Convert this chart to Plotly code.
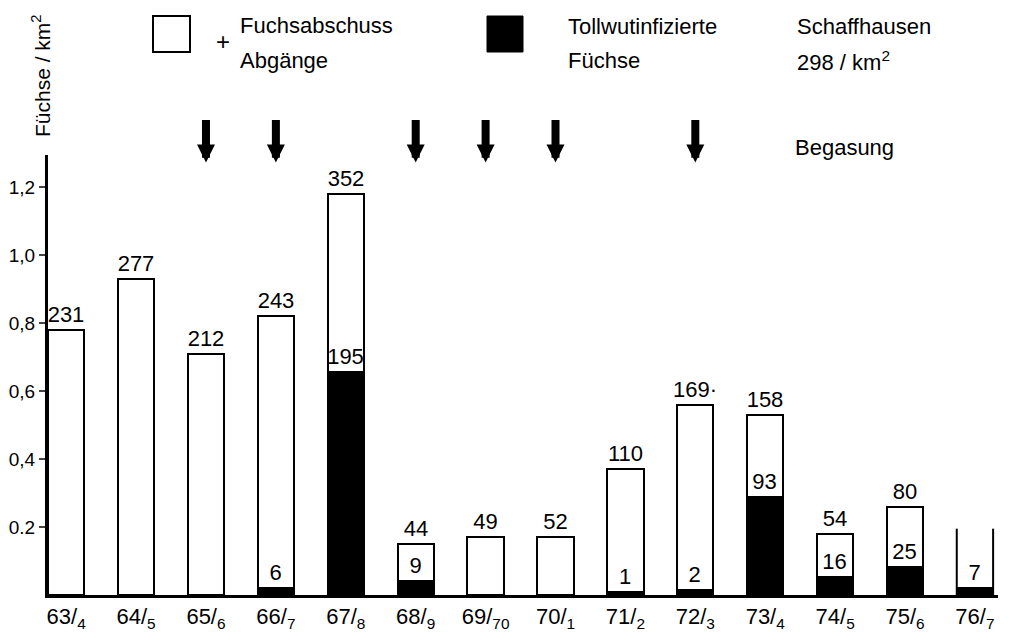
import plotly.graph_objects as go

# ---- data ----
seasons = ["63/4", "64/5", "65/6", "66/7", "67/8", "68/9", "69/70",
           "70/1", "71/2", "72/3", "73/4", "74/5", "75/6", "76/7"]
tick_labels = ["63/<sub>4</sub>", "64/<sub>5</sub>", "65/<sub>6</sub>", "66/<sub>7</sub>",
               "67/<sub>8</sub>", "68/<sub>9</sub>", "69/<sub>70</sub>", "70/<sub>1</sub>",
               "71/<sub>2</sub>", "72/<sub>3</sub>", "73/<sub>4</sub>", "74/<sub>5</sub>",
               "75/<sub>6</sub>", "76/<sub>7</sub>"]
# Fuchsabschuss + Abgänge (foxes per km²) and counts
total_density = [0.78, 0.93, 0.71, 0.82, 1.18, 0.15, 0.17,
                 0.17, 0.37, 0.56, 0.53, 0.18, 0.26, 0.195]
total_counts = ["231", "277", "212", "243", "352", "44", "49",
                "52", "110", "169·", "158", "54", "80", ""]
# Tollwutinfizierte Füchse (foxes per km²) and counts
rabid_density = [0, 0, 0, 0.02, 0.656, 0.041, 0,
                 0, 0.01, 0.015, 0.288, 0.053, 0.082, 0.02]
rabid_counts = ["", "", "", "6", "195", "9", "",
                "", "1", "2", "93", "16", "25", "7"]
open_top = [False] * 13 + [True]          # last season incomplete
gassing = ["65/6", "66/7", "68/9", "69/70", "70/1", "72/3"]   # Begasung
y_ticks = [0.2, 0.4, 0.6, 0.8, 1.0, 1.2]
y_tick_text = ["0.2", "0,4", "0,6", "0,8", "1,0", "1,2"]

FONT = "Liberation Sans, Arial, sans-serif"
FS = 22
BW = 0.52

idx = list(range(len(seasons)))

# the page body has an 8px margin: figure coords = page coords - 8
OFF = 8
W, H = 1009 - OFF, 642 - OFF
# plot area in page pixels
L, R, T, B = 48, 998, 155, 595
def px(x):
    return (x - L) / (R - L)
def py(y):
    return (B - y) / (B - T)

fig = go.Figure()

fig.add_trace(go.Bar(
    x=idx, y=total_density, width=BW,
    marker=dict(color="white",
                line=dict(color=["rgba(0,0,0,0)" if o else "black" for o in open_top], width=2)),
    text=total_counts, textposition="outside", cliponaxis=False,
    constraintext="none",
    textfont=dict(family=FONT, size=FS, color="black"),
    hoverinfo="skip", showlegend=False))

fig.add_trace(go.Bar(
    x=idx, y=rabid_density, width=BW,
    marker=dict(color="black", line=dict(color="black", width=1)),
    text=rabid_counts, textposition="outside", cliponaxis=False,
    constraintext="none",
    textfont=dict(family=FONT, size=FS, color="black"),
    hoverinfo="skip", showlegend=False))

# sides of open-topped bar(s)
sx, sy = [], []
for i, o in enumerate(open_top):
    if o:
        for side in (-BW / 2, BW / 2):
            sx += [i + side, i + side, None]
            sy += [0, total_density[i], None]
fig.add_trace(go.Scatter(x=sx, y=sy, mode="lines", line=dict(color="black", width=2),
                         hoverinfo="skip", showlegend=False, cliponaxis=False))

annotations = []
# Begasung arrows
for s in gassing:
    annotations.append(dict(x=seasons.index(s), y=1.272, xref="x", yref="y",
                            text="", showarrow=True, ax=0, ay=-44,
                            arrowhead=2, arrowsize=0.45, arrowwidth=8, arrowcolor="black"))

def txt(x, y, s, size=FS, anchor="left"):
    annotations.append(dict(x=px(x), y=py(y), xref="paper", yref="paper", text=s,
                            showarrow=False, xanchor=anchor, yanchor="middle",
                            font=dict(family=FONT, size=size, color="black")))

txt(238, 25, "Fuchsabschuss")
txt(238, 60, "Abgänge")
txt(214, 41, "+", size=24)
txt(566, 26, "Tollwutinfizierte")
txt(566, 60, "Füchse")
txt(795, 27, "Schaffhausen")
txt(795, 61, "298 / km<sup>2</sup>")
txt(793, 147, "Begasung")

# y axis title
annotations.append(dict(x=px(41), y=py(76), xref="paper", yref="paper",
                        text="Füchse / km<sup>2</sup>", textangle=-90, showarrow=False,
                        xanchor="center", yanchor="middle",
                        font=dict(family=FONT, size=21, color="black")))

shapes = [
    dict(type="rect", xref="paper", yref="paper", x0=px(153), x1=px(190), y0=py(52), y1=py(16),
         line=dict(color="black", width=2), fillcolor="white"),
    dict(type="rect", xref="paper", yref="paper", x0=px(487), x1=px(523), y0=py(52), y1=py(16),
         line=dict(color="black", width=1), fillcolor="black"),
]

fig.update_layout(
    width=W, height=H,
    margin=dict(l=L - OFF, r=W - (R - OFF), t=T - OFF, b=H - (B - OFF), autoexpand=False),
    paper_bgcolor="white", plot_bgcolor="white",
    barmode="overlay", bargap=0,
    font=dict(family=FONT, size=FS, color="black"),
    annotations=annotations, shapes=shapes,
    xaxis=dict(range=[-BW / 2, 13.33], tickvals=idx, ticktext=tick_labels,
               showgrid=False, zeroline=False, showline=True, linecolor="black",
               linewidth=3, ticks="", automargin=False,
               tickfont=dict(family=FONT, size=FS)),
    yaxis=dict(range=[0, 1.294], tickvals=y_ticks, ticktext=y_tick_text,
               showgrid=False, zeroline=False, showline=True, linecolor="black",
               linewidth=3, ticks="outside", ticklen=6, tickwidth=2, automargin=False,
               ticklabelstandoff=0,
               tickfont=dict(family=FONT, size=19)),
)

fig.write_html("out.html")
